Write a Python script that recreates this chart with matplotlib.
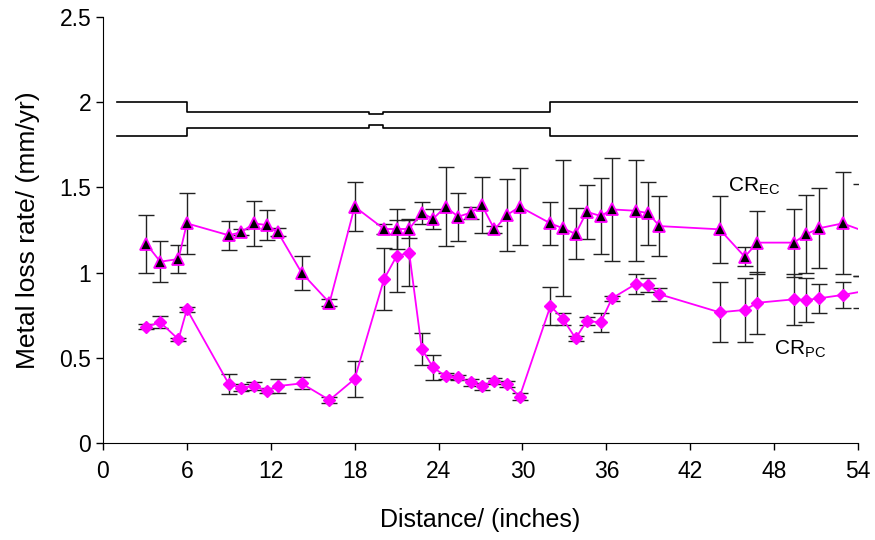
import numpy as np
import matplotlib.pyplot as plt

plt.rcParams["font.family"] = ["Liberation Sans", "DejaVu Sans"]

# Måleposisjoner langs røret (tommer), felles for begge serier
distance = [3.1, 4.1, 5.4, 6.0, 9.0, 9.9, 10.8, 11.7, 12.5, 14.2,
            16.2, 18.0, 20.1, 21.0, 21.9, 22.8, 23.6, 24.5, 25.4, 26.3,
            27.1, 28.0, 28.9, 29.8, 32.0, 32.9, 33.8, 34.6, 35.6, 36.4,
            38.1, 39.0, 39.8, 44.1, 45.9, 46.8, 49.4, 50.3, 51.2, 52.9,
            54.2]

# CR_EC (trekanter)
cr_ec = [1.168, 1.064, 1.080, 1.289, 1.219, 1.238, 1.289, 1.279, 1.238, 1.000,
         0.823, 1.387, 1.256, 1.256, 1.256, 1.352, 1.315, 1.387, 1.328, 1.352,
         1.395, 1.254, 1.338, 1.387, 1.289, 1.260, 1.227, 1.357, 1.332, 1.371,
         1.363, 1.348, 1.273, 1.254, 1.093, 1.176, 1.176, 1.225, 1.260, 1.289,
         1.250]
cr_ec_err = [0.170, 0.120, 0.080, 0.180, 0.085, 0.020, 0.130, 0.090, 0.025, 0.100,
             0.020, 0.145, 0.030, 0.120, 0.050, 0.065, 0.060, 0.230, 0.142, 0.035,
             0.165, 0.020, 0.210, 0.225, 0.125, 0.400, 0.150, 0.160, 0.225, 0.300,
             0.295, 0.185, 0.175, 0.195, 0.055, 0.185, 0.200, 0.230, 0.235, 0.300,
             0.270]

# CR_PC (ruter)
cr_pc = [0.683, 0.708, 0.608, 0.785, 0.346, 0.325, 0.334, 0.307, 0.334, 0.350,
         0.252, 0.376, 0.962, 1.097, 1.117, 0.552, 0.444, 0.393, 0.385, 0.356,
         0.334, 0.364, 0.346, 0.272, 0.804, 0.728, 0.614, 0.716, 0.708, 0.849,
         0.933, 0.927, 0.873, 0.767, 0.781, 0.823, 0.843, 0.839, 0.849, 0.869,
         0.888]
cr_pc_err = [0.015, 0.035, 0.010, 0.015, 0.058, 0.020, 0.025, 0.015, 0.042, 0.035,
             0.020, 0.105, 0.180, 0.210, 0.195, 0.095, 0.072, 0.020, 0.015, 0.020,
             0.020, 0.020, 0.020, 0.020, 0.113, 0.035, 0.015, 0.025, 0.057, 0.015,
             0.057, 0.040, 0.037, 0.175, 0.190, 0.183, 0.150, 0.130, 0.085, 0.075,
             0.093]

# Rørprofil (skjematisk) over dataene
pipe_x = [1, 6, 6, 19, 19, 20, 20, 32, 32, 54]
pipe_upper = [2.0, 2.0, 1.945, 1.945, 1.93, 1.93, 1.945, 1.945, 2.0, 2.0]
pipe_lower = [1.8, 1.8, 1.85, 1.85, 1.865, 1.865, 1.85, 1.85, 1.8, 1.8]

MAGENTA = "#ff00ff"

fig = plt.figure(figsize=(8.75, 5.4), dpi=100)
ax = fig.add_axes([0.1177, 0.1796, 0.8629, 0.7889])

ax.plot(pipe_x, pipe_upper, color="black", lw=1.2, zorder=2)
ax.plot(pipe_x, pipe_lower, color="black", lw=1.2, zorder=2)

for y, err in ((cr_ec, cr_ec_err), (cr_pc, cr_pc_err)):
    ax.errorbar(distance, y, yerr=err, fmt="none", ecolor="#222222",
                elinewidth=1.0, capsize=6, capthick=1.0, zorder=2)

# siste punkt ligger utenfor aksen, så bare linjen vises der
ax.plot(distance, cr_ec, color=MAGENTA, lw=1.3, marker="^", markersize=9,
        markerfacecolor="black", markeredgecolor=MAGENTA, markeredgewidth=1.3,
        markevery=slice(0, -1), zorder=3)
ax.plot(distance, cr_pc, color=MAGENTA, lw=1.3, marker="D", markersize=6.5,
        markerfacecolor=MAGENTA, markeredgecolor=MAGENTA,
        markevery=slice(0, -1), zorder=3)

ax.text(44.7, 1.475, r"CR$_{\mathregular{EC}}$", fontsize=15)
ax.text(48.0, 0.518, r"CR$_{\mathregular{PC}}$", fontsize=15)

ax.set_xlim(0, 54)
ax.set_ylim(0, 2.5)
ax.set_xticks(np.arange(0, 55, 6))
ax.set_yticks(np.arange(0, 2.51, 0.5))
ax.set_yticklabels(["0", "0.5", "1", "1.5", "2", "2.5"])
ax.tick_params(direction="out", length=5, width=1, labelsize=16.5, colors="black")
ax.tick_params(axis="x", pad=7)
ax.spines["top"].set_visible(False)
ax.spines["right"].set_visible(False)

ax.set_xlabel("Distance/ (inches)", fontsize=18, labelpad=18)
ax.set_ylabel("Metal loss rate/ (mm/yr)", fontsize=19, labelpad=14)

fig.savefig("out.png", dpi=100)
